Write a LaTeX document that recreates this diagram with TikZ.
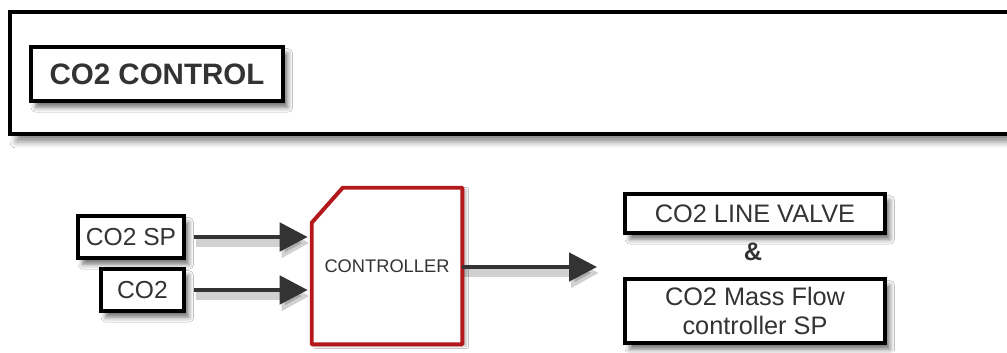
\documentclass[tikz,border=0pt]{standalone}
\usepackage{fontspec}
\setmainfont{Liberation Sans}
\usetikzlibrary{shadows.blur,arrows.meta}
\definecolor{ink}{HTML}{333333}
\definecolor{ctrlred}{HTML}{B3181C}
\begin{document}
\begin{tikzpicture}[
  tagbox/.style={draw=black, line width=2.2pt, fill=white, inner sep=0pt,
    text=ink, align=center,
    blur shadow={shadow xshift=0.12cm, shadow yshift=-0.16cm,
      shadow blur radius=0.12cm, shadow opacity=55}},
  flow/.style={draw=ink, line width=3.4pt,
    -{Triangle[length=0.7cm, width=0.7cm]},
    preaction={draw=black, opacity=0.18, line width=5pt,
      transform canvas={xshift=0.05cm, yshift=-0.15cm}}}
]
\clip (0,0) rectangle (25.175,8.8);
\fill[white] (0,0) rectangle (25.175,8.8);

% frame round the title
\draw[line width=2.6pt, fill=white,
  blur shadow={shadow xshift=0.15cm, shadow yshift=-0.2cm,
    shadow blur radius=0.15cm, shadow opacity=45}]
  (0.25,5.45) rectangle (25.6,8.5);
\node[tagbox, line width=2.8pt, minimum width=6.3cm, minimum height=1.35cm,
  font=\fontsize{21}{25}\selectfont\bfseries] (title) at (3.925,6.95) {CO2 CONTROL};

% inputs
\node[tagbox, minimum width=2.65cm, minimum height=1.05cm,
  font=\fontsize{17.5}{20}\selectfont] (sp) at (3.275,2.875) {CO2 SP};
\node[tagbox, minimum width=2.075cm, minimum height=1.05cm,
  font=\fontsize{17.5}{20}\selectfont] (pv) at (3.5625,1.55) {CO2};

% controller
\node[minimum width=3.75cm, minimum height=3.9cm, inner sep=0pt] (ctrl) at (9.675,2.15) {};
\draw[ctrlred, line width=2.8pt, line join=round, fill=white,
  blur shadow={shadow xshift=0.1cm, shadow yshift=-0.05cm,
    shadow blur radius=0.06cm, shadow opacity=25}]
  (ctrl.south west) -- ([yshift=-0.875cm]ctrl.north west)
  -- ([xshift=0.775cm]ctrl.north west) -- (ctrl.north east)
  -- (ctrl.south east) -- cycle;
\node[text=ink, font=\fontsize{13}{15}\selectfont] (ctrltext) at (ctrl.center) {CONTROLLER};

% outputs
\node[tagbox, minimum width=6.5cm, minimum height=0.975cm,
  font=\fontsize{18}{20}\selectfont] (valve) at (18.875,3.4625) {CO2 LINE VALVE};
\node[text=ink, font=\fontsize{18}{20}\selectfont\bfseries] (amp) at (18.825,2.5) {\&};
\node[tagbox, minimum width=6.5cm, minimum height=1.6cm,
  font=\fontsize{18}{20.5}\selectfont] (mfc) at (18.875,1.025) {CO2 Mass Flow\\controller SP};
\coordinate (out) at (14.925,2.125);

\draw[flow, shorten <=0.2cm, shorten >=0.1cm] (sp.east) -- (sp.east -| ctrl.west);
\draw[flow, shorten <=0.2cm, shorten >=0.1cm] (pv.east) -- (pv.east -| ctrl.west);
\draw[flow] (ctrl.east |- out) -- (out);
\end{tikzpicture}
\end{document}
